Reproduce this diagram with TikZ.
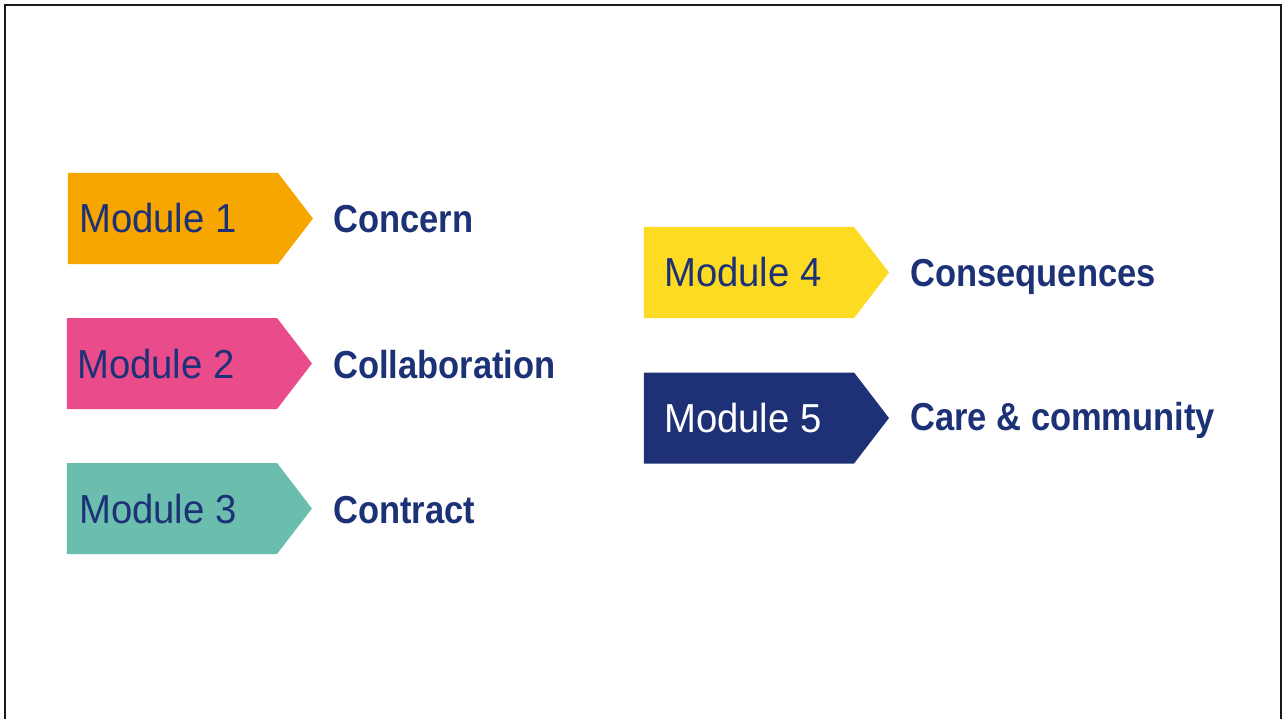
\documentclass[tikz,border=0pt]{standalone}
\usepackage{fontspec}
\setmainfont{Liberation Sans}
\newfontfamily\modfont[FakeStretch=0.945]{Liberation Sans}
\newfontfamily\labfont[FakeStretch=0.885]{Liberation Sans Bold}
\usetikzlibrary{shapes.symbols}
\definecolor{navy}{HTML}{1D3276}
\definecolor{orangeM}{HTML}{F7A600}
\definecolor{pinkM}{HTML}{EA4B8B}
\definecolor{tealM}{HTML}{6BBEAE}
\definecolor{yellowM}{HTML}{FDDB22}
\definecolor{navyM}{HTML}{1E3177}
\tikzset{
  modshape/.style={signal, signal to=east, signal pointer angle=105, minimum width=245pt, minimum height=91pt, inner sep=0pt, outer sep=0pt, draw=none},
  modtext/.style={anchor=base west, inner sep=0pt, font=\modfont\fontsize{40.5}{44}\selectfont, text=navy},
  labtext/.style={anchor=base west, inner sep=0pt, font=\labfont\fontsize{39}{43}\selectfont, text=navy},
}
\begin{document}
\begin{tikzpicture}[x=1pt,y=-1pt]
\useasboundingbox (0,0) rectangle (1284,719);
\draw[line width=2.5pt, color=black!90] (5,719) -- (5,5) -- (1281,5) -- (1281,719);
% shapes
\node[modshape, fill=orangeM] (s1) at (173,218.5) {};
\node[modshape, fill=pinkM] (s2) at (172,363.5) {};
\node[modshape, fill=tealM] (s3) at (172,508.5) {};
\node[modshape, fill=yellowM] (s4) at (749,272.5) {};
\node[modshape, fill=navyM] (s5) at (749,418) {};
% module texts
\node[modtext] (m1) at (79,233) {Module 1};
\node[modtext] (m2) at (77,378) {Module 2};
\node[modtext] (m3) at (79,523) {Module 3};
\node[modtext] (m4) at (664,287) {Module 4};
\node[modtext, text=white] (m5) at (664,432.5) {Module 5};
% labels
\node[labtext] (l1) at (333,232.5) {Concern};
\node[labtext] (l2) at (333,378.5) {Collaboration};
\node[labtext] (l3) at (333,523) {Contract};
\node[labtext] (l4) at (910,286.5) {Consequences};
\node[labtext] (l5) at (910,430.5) {Care \& community};
\end{tikzpicture}
\end{document}
